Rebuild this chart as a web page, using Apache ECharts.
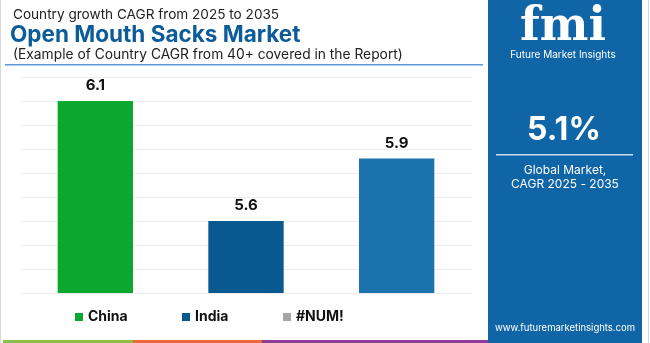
<!DOCTYPE html>
<html><head><meta charset="utf-8">
<script src="https://cdn.jsdelivr.net/npm/echarts@6/dist/echarts.min.js"></script>
<style>html,body{margin:0;padding:0;background:#fff}#c{width:650px;height:343px}</style>
</head><body><div id="c"></div>
<script>
var categories = ['China', 'India', '#NUM!'];
var values = [6.1, 5.6, 5.86];
var barColors = ['#0aa82f', '#07598f', '#1b72ad'];
var legendColors = ['#0aa82f', '#07598f', '#a6a6a6'];
var yMin = 5.3, yMax = 6.2, yStep = 0.1;
var globalCagr = '5.1%';

var chart = echarts.init(document.getElementById('c'), null, {renderer: 'canvas'});
var FONT = 'Inter, "Open Sans", sans-serif';
var series = categories.map(function (name, i) {
  return {
    name: name, type: 'bar', stack: 'all', barWidth: '50%',
    itemStyle: {color: barColors[i]},
    label: {show: true, position: 'top', distance: 8, color: '#111', fontWeight: 'bold', fontSize: 15, fontFamily: FONT,
      formatter: function (p) { return p.value == null ? '' : Number(p.value).toFixed(1); }},
    data: categories.map(function (c, j) { return j === i ? values[i] : null; })
  };
});
var legendLefts = [75, 182, 283];
var legends = categories.map(function (c, i) {
  return {
    top: 310, left: legendLefts[i], itemWidth: 8, itemHeight: 8, itemGap: 4, icon: 'rect', padding: 0,
    textStyle: {fontSize: 14, fontWeight: 'bold', color: '#111', fontFamily: FONT},
    data: [{name: c, itemStyle: {color: legendColors[i]}}]
  };
});
function ctext(x, y, text, size, weight, font) {
  return {type: 'text', x: x, y: y, style: {text: text, fontSize: size, fontWeight: weight || 'normal', fill: '#ffffff',
    fontFamily: font || FONT, textAlign: 'center', textVerticalAlign: 'middle'}};
}
chart.setOption({
  animation: false,
  grid: {left: 20, right: 178, top: 77, bottom: 50},
  xAxis: {type: 'category', data: categories, axisLine: {show: false}, axisTick: {show: false}, axisLabel: {show: false}},
  yAxis: {type: 'value', min: yMin, max: yMax, interval: yStep, axisLabel: {show: false},
    axisLine: {show: false}, axisTick: {show: false}, splitLine: {lineStyle: {color: '#ececec', width: 1}}},
  legend: legends,
  series: series,
  graphic: [
    {type: 'rect', left: 0, top: 0, shape: {width: 1, height: 343}, style: {fill: '#d8d8d8'}},
    {type: 'text', x: 13, y: 15, style: {text: 'Country growth CAGR from 2025 to 2035', fontSize: 13.6, fill: '#222', fontFamily: FONT, textVerticalAlign: 'middle'}},
    {type: 'text', x: 10, y: 35, style: {text: 'Open Mouth Sacks Market', fontSize: 22.5, fontWeight: 'bold', fill: '#0d5c9a', fontFamily: FONT, textVerticalAlign: 'middle'}},
    {type: 'text', x: 13, y: 55, style: {text: '(Example of Country CAGR from 40+ covered in the Report)', fontSize: 13.8, fill: '#222', fontFamily: FONT, textVerticalAlign: 'middle'}},
    {type: 'rect', left: 5, top: 64, shape: {width: 478, height: 1.5}, style: {fill: '#5b9bd5'}},
    {type: 'rect', left: 488, top: 0, shape: {width: 154, height: 343}, style: {fill: '#0f65a6'}},
    {type: 'rect', left: 648, top: 0, shape: {width: 1, height: 343}, style: {fill: '#d8d8d8'}},
    ctext(563, 28, 'fmi', 46, 'bold', '"DejaVu Serif", serif'),
    ctext(563, 55, 'Future Market Insights', 10),
    ctext(564, 130, globalCagr, 32, 'bold'),
    {type: 'rect', left: 496, top: 154, shape: {width: 137, height: 1.5}, style: {fill: '#c8dcee'}},
    ctext(565, 170, 'Global Market,', 12),
    ctext(565, 184, 'CAGR 2025 - 2035', 12),
    ctext(565, 328, 'www.futuremarketinsights.com', 9.5),
    {type: 'rect', left: 3, top: 340, shape: {width: 130, height: 3}, style: {fill: '#8dc04a'}},
    {type: 'rect', left: 133, top: 340, shape: {width: 129, height: 3}, style: {fill: '#e8683a'}},
    {type: 'rect', left: 262, top: 340, shape: {width: 226, height: 3}, style: {fill: '#8e3d97'}}
  ]
});
</script></body></html>
